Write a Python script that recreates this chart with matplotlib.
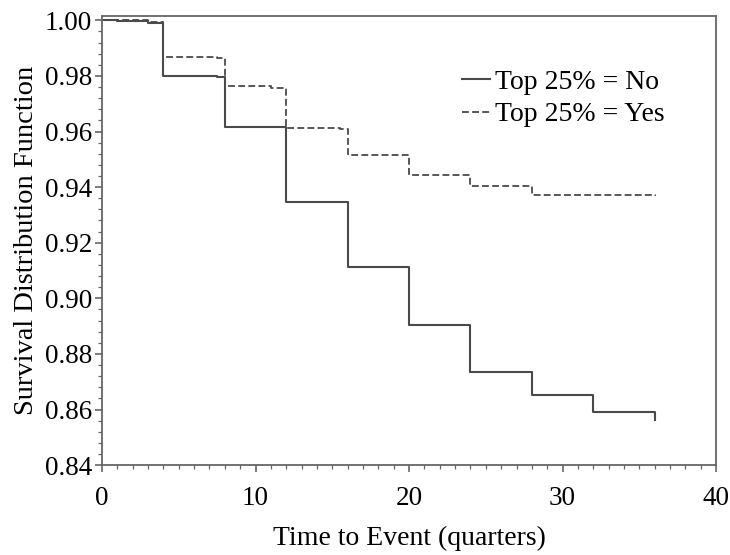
import numpy as np
import matplotlib
matplotlib.use('Agg')
from matplotlib import pyplot as plt
from matplotlib.ticker import MultipleLocator, FormatStrFormatter

plt.rcParams['font.family'] = ['Liberation Serif', 'DejaVu Serif']

#---------------
# Data
#---------------
t_no = [0, 1, 3, 4, 7.5, 8, 12, 16, 20, 24, 28, 32, 36]
s_no = [1.000, 0.9996, 0.9992, 0.980, 0.9795, 0.9616, 0.9345, 0.9114,
        0.8905, 0.8734, 0.8651, 0.8592, 0.8563]

t_yes = [0, 3, 4, 7.5, 8, 11, 12, 15.5, 16, 20, 24, 28, 36]
s_yes = [1.000, 0.9995, 0.9869, 0.9865, 0.9764, 0.9755, 0.9613, 0.9608,
         0.9515, 0.9443, 0.9404, 0.9373, 0.9368]

labels = ['Top 25% = No', 'Top 25% = Yes']

#---------------
# Plot
#---------------
fig = plt.figure(figsize=(7.3, 5.55), dpi=100)
ax = fig.add_axes([0.1397, 0.162, 0.8413, 0.8098])

line_col = '#4a4a4a'
ax.plot(t_no, s_no, drawstyle='steps-post', color=line_col, lw=1.5,
        label=labels[0])
ax.plot(t_yes, s_yes, drawstyle='steps-post', color=line_col, lw=1.3,
        linestyle=(0, (3.8, 1.8)), label=labels[1])

ax.set_xlim(0, 40)
ax.set_ylim(0.84, 1.0017)
ax.xaxis.set_major_locator(MultipleLocator(10))
ax.xaxis.set_minor_locator(MultipleLocator(1))
ax.yaxis.set_major_locator(MultipleLocator(0.02))
ax.yaxis.set_minor_locator(MultipleLocator(0.004))
ax.yaxis.set_major_formatter(FormatStrFormatter('%.2f'))

for sp in ax.spines.values():
    sp.set_color('#666666')
    sp.set_linewidth(1.3)

ax.tick_params(which='major', direction='out', length=5, width=1.2,
               color='#666666', labelsize=19.5)
ax.tick_params(which='minor', direction='out', length=3, width=0.9,
               color='#666666')
ax.tick_params(axis='x', which='major', pad=10)
ax.tick_params(axis='y', which='major', pad=2)

ax.set_xlabel('Time to Event (quarters)', fontsize=20, labelpad=11)
ax.set_ylabel('Survival Distribution Function', fontsize=20.5, labelpad=4)

leg = ax.legend(loc='upper right', bbox_to_anchor=(0.935, 0.905),
                frameon=False, fontsize=20, handlelength=1.0,
                handletextpad=0.2, labelspacing=0.25, borderaxespad=0)

fig.savefig('out.png', dpi=100)
